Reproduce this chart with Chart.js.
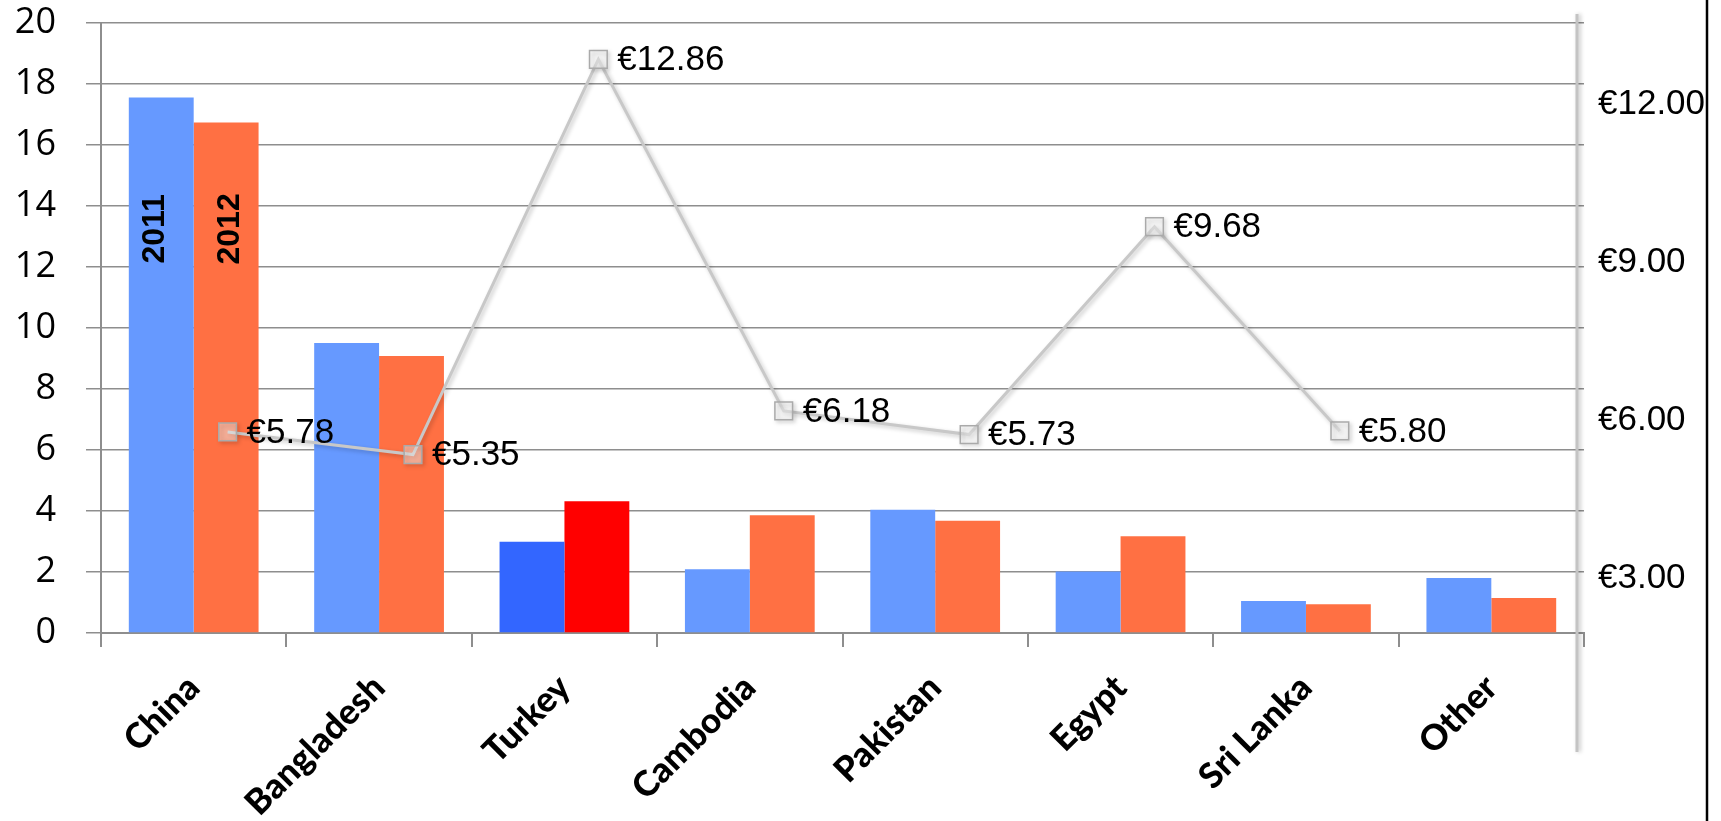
<!DOCTYPE html>
<html>
<head>
<meta charset="utf-8">
<script src="https://cdn.jsdelivr.net/npm/chart.js@4/dist/chart.umd.min.js"></script>
<style>
    html, body { margin: 0; padding: 0; background: #fff; }
    #wrap { position: relative; width: 1721px; height: 821px; }
    #wrap canvas { position: absolute; left: 0; top: 0; }
</style>
</head>
<body>
<div id="wrap">
    <canvas id="barChart" width="1721" height="821"></canvas>
    <canvas id="priceChart" width="1721" height="821"></canvas>
</div>
<script>
// 数据
const countries = ['China', 'Bangladesh', 'Turkey', 'Cambodia', 'Pakistan', 'Egypt', 'Sri Lanka', 'Other'];
const volume2011 = [17.56, 9.51, 2.99, 2.09, 4.04, 2.02, 1.05, 1.80];
const volume2012 = [16.74, 9.08, 4.32, 3.86, 3.68, 3.17, 0.94, 1.15];
const prices = [5.78, 5.35, 12.86, 6.18, 5.73, 9.68, 5.80];   // China .. Sri Lanka
const priceTicks = [3, 6, 9, 12];
const seriesNames = ['2011', '2012'];
const highlight = 'Turkey';

const BLUE = '#6699ff', ORANGE = '#ff7043';
const BLUE_HI = '#3366ff', RED_HI = '#ff0000';
const GRID = '#8e8e8e';

// 两张图共用的绘图区
const AREA = { left: 101, right: 137, top: 23, bottom: 188 };
const PRICE_MIN = 1.96, PRICE_MAX = 13.55;

const colorsFor = (base, hi) => countries.map((c) => (c === highlight ? hi : base));
const noPad = (scale) => {
    scale.paddingTop = 0;
    scale.paddingBottom = 0;
    scale.paddingLeft = 0;
    scale.paddingRight = 0;
};

/**
 * 柱内年份文字 (China 柱)
 */
const yearLabels = {
    id: 'yearLabels',
    afterDatasetsDraw(chart) {
        const { ctx, scales } = chart;
        const y = scales.y.getPixelForValue(13.25);
        const nudge = [-6, 4];
        [0, 1].forEach((di) => {
            const bar = chart.getDatasetMeta(di).data[0];
            ctx.save();
            ctx.translate(bar.x + nudge[di], y);
            ctx.rotate(-Math.PI / 2);
            ctx.font = 'bold 32px "Liberation Sans"';
            ctx.textAlign = 'center';
            ctx.textBaseline = 'middle';
            ctx.fillStyle = '#000';
            ctx.fillText(seriesNames[di], 0, 0);
            ctx.restore();
        });
    },
};

/**
 * 右侧装饰竖线和黑色边框
 */
const frame = {
    id: 'frame',
    afterDraw(chart) {
        const { ctx, chartArea } = chart;
        ctx.save();
        ctx.shadowColor = 'rgba(0,0,0,0.25)';
        ctx.shadowBlur = 4;
        ctx.shadowOffsetX = 2;
        ctx.strokeStyle = '#c4c4c4';
        ctx.lineWidth = 3;
        ctx.beginPath();
        ctx.moveTo(chartArea.right - 7, 14);
        ctx.lineTo(chartArea.right - 7, 752);
        ctx.stroke();
        ctx.restore();

        ctx.save();
        ctx.strokeStyle = '#000';
        ctx.lineWidth = 2.5;
        ctx.beginPath();
        ctx.moveTo(1707, 0);
        ctx.lineTo(1707, 821);
        ctx.stroke();
        ctx.restore();
    },
};

/**
 * 折线阴影 + 价格标签
 */
const priceLabels = {
    id: 'priceLabels',
    beforeDatasetsDraw(chart) {
        const ctx = chart.ctx;
        ctx.save();
        ctx.shadowColor = 'rgba(0,0,0,0.22)';
        ctx.shadowBlur = 4;
        ctx.shadowOffsetX = 2;
        ctx.shadowOffsetY = 2;
    },
    afterDatasetsDraw(chart) {
        const ctx = chart.ctx;
        ctx.restore();
        ctx.save();
        ctx.font = '35px "Liberation Sans"';
        ctx.textAlign = 'left';
        ctx.textBaseline = 'middle';
        ctx.fillStyle = '#000';
        chart.getDatasetMeta(0).data.forEach((pt, i) => {
            ctx.fillText('€' + prices[i].toFixed(2), pt.x + 19, pt.y + 1);
        });
        ctx.restore();
    },
};

// 柱状图 + 坐标轴
new Chart(document.getElementById('barChart').getContext('2d'), {
    type: 'bar',
    data: {
        labels: countries,
        datasets: [
            {
                label: seriesNames[0],
                data: volume2011,
                backgroundColor: colorsFor(BLUE, BLUE_HI),
                categoryPercentage: 0.7,
                barPercentage: 1.0,
            },
            {
                label: seriesNames[1],
                data: volume2012,
                backgroundColor: colorsFor(ORANGE, RED_HI),
                categoryPercentage: 0.7,
                barPercentage: 1.0,
            },
        ],
    },
    options: {
        responsive: false,
        animation: false,
        devicePixelRatio: 1,
        layout: { padding: { top: AREA.top, left: 0, right: 0, bottom: 0 } },
        plugins: {
            legend: { display: false },
            tooltip: { enabled: false },
        },
        scales: {
            x: {
                offset: true,
                grid: {
                    offset: true,
                    drawOnChartArea: false,
                    tickLength: 14,
                    color: GRID,
                    lineWidth: 2,
                },
                border: { color: GRID, width: 2 },
                ticks: {
                    minRotation: 45,
                    maxRotation: 45,
                    padding: 20,
                    color: '#000',
                    font: { family: 'Lato', weight: 900, size: 35 },
                },
                afterFit: (scale) => { noPad(scale); scale.height = AREA.bottom; },
            },
            y: {
                position: 'left',
                min: 0,
                max: 20,
                grid: { color: GRID, lineWidth: 1.5, tickLength: 15 },
                border: { color: GRID, width: 2 },
                ticks: {
                    stepSize: 2,
                    padding: 30,
                    color: '#000',
                    font: { family: 'Open Sans', size: 36 },
                },
                afterFit: (scale) => { noPad(scale); scale.width = AREA.left; },
            },
            y1: {
                position: 'right',
                min: PRICE_MIN,
                max: PRICE_MAX,
                grid: { display: false },
                border: { display: false },
                afterBuildTicks: (scale) => {
                    scale.ticks = priceTicks.map((v) => ({ value: v }));
                },
                ticks: {
                    padding: 6,
                    color: '#000',
                    font: { family: 'Liberation Sans', size: 35 },
                    callback: (v) => '€' + Number(v).toFixed(2),
                },
                afterFit: (scale) => { noPad(scale); scale.width = AREA.right; },
            },
        },
    },
    plugins: [yearLabels, frame],
});

// 价格折线 (叠加层, x 轴相对类别中心右移)
new Chart(document.getElementById('priceChart').getContext('2d'), {
    type: 'line',
    data: {
        datasets: [
            {
                label: 'Price',
                data: prices.map((p, i) => ({ x: i, y: p })),
                borderColor: '#c8c8c8',
                borderWidth: 3,
                tension: 0,
                fill: false,
                pointStyle: 'rect',
                pointRadius: 12.5,
                pointBorderColor: '#aaaaaa',
                pointBorderWidth: 1.5,
                pointBackgroundColor: 'rgba(255,255,255,0.45)',
            },
        ],
    },
    options: {
        responsive: false,
        animation: false,
        devicePixelRatio: 1,
        layout: { padding: AREA },
        plugins: {
            legend: { display: false },
            tooltip: { enabled: false },
        },
        scales: {
            x: { type: 'linear', display: false, offset: false, min: -0.683, max: 7.317 },
            y: { type: 'linear', display: false, min: PRICE_MIN, max: PRICE_MAX },
        },
    },
    plugins: [priceLabels],
});
</script>
</body>
</html>
